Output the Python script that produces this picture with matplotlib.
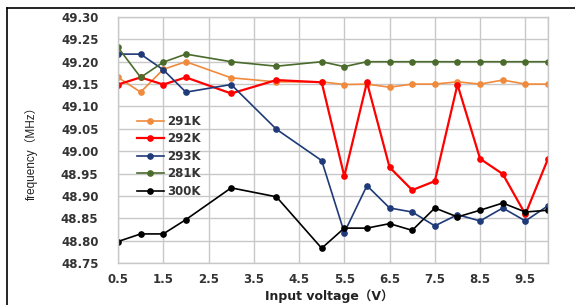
import matplotlib
matplotlib.use("Agg")
import matplotlib.pyplot as plt
from matplotlib.lines import Line2D

voltage = [0.5, 1.0, 1.5, 2.0, 3.0, 4.0, 5.0, 5.5, 6.0, 6.5, 7.0, 7.5, 8.0, 8.5, 9.0, 9.5, 10.0]
f_291K = [49.165, 49.132, 49.183, 49.200, 49.164, 49.155, 49.155, 49.149, 49.150, 49.143, 49.150, 49.150, 49.155, 49.150, 49.159, 49.150, 49.150]
f_292K = [49.149, 49.165, 49.149, 49.165, 49.129, 49.159, 49.154, 48.944, 49.154, 48.964, 48.913, 48.933, 49.149, 48.983, 48.949, 48.859, 48.983]
f_293K = [49.217, 49.217, 49.182, 49.132, 49.149, 49.049, 48.979, 48.818, 48.923, 48.873, 48.864, 48.833, 48.858, 48.844, 48.873, 48.844, 48.878]
f_281K = [49.232, 49.165, 49.199, 49.217, 49.200, 49.190, 49.200, 49.189, 49.200, 49.200, 49.200, 49.200, 49.200, 49.200, 49.200, 49.200, 49.200]
f_300K = [48.798, 48.815, 48.815, 48.847, 48.918, 48.898, 48.783, 48.828, 48.828, 48.838, 48.823, 48.873, 48.853, 48.868, 48.884, 48.864, 48.868]

series = [
    ("291K", f_291K, "#F08A3C", 1.2),
    ("292K", f_292K, "#FF0000", 1.6),
    ("293K", f_293K, "#1F3A78", 1.2),
    ("281K", f_281K, "#4A6B2C", 1.2),
    ("300K", f_300K, "#000000", 1.2),
]

xticks = [0.5, 1.5, 2.5, 3.5, 4.5, 5.5, 6.5, 7.5, 8.5, 9.5]
yticks = [48.75, 48.80, 48.85, 48.90, 48.95, 49.00, 49.05, 49.10, 49.15, 49.20, 49.25, 49.30]

fig = plt.figure(figsize=(5.75, 3.05), dpi=100)
ax = fig.add_axes([118/575, 1 - 263/305, (548 - 118)/575, (263 - 17)/305])

for name, vals, col, lw in series:
    ax.plot(voltage, vals, color=col, lw=lw, marker="o", ms=3.8, label=name)

ax.set_xlim(0.5, 10.0)
ax.set_ylim(48.75, 49.30)
ax.set_xticks(xticks + [10.0])
ax.set_xticklabels([f"{t:.1f}" for t in xticks] + [""])
ax.set_yticks(yticks)
ax.set_yticklabels([f"{t:.2f}" for t in yticks])
ax.grid(True, color="#c8c8c8", lw=1.0)
ax.set_axisbelow(True)
for s in ax.spines.values():
    s.set_color("#c8c8c8")
    s.set_linewidth(1.0)
ax.tick_params(axis="both", length=0, colors="#333333", labelsize=8.5)
ax.tick_params(axis="y", pad=14)
ax.tick_params(axis="x", pad=7)
for lab in ax.get_xticklabels() + ax.get_yticklabels():
    lab.set_fontweight("bold")
    lab.set_family("DejaVu Sans")

fig.text(329/575, 1 - 296/305, "Input voltage（V）", ha="center", va="center",
         fontsize=9, fontweight="bold", color="#222222",
         family=["DejaVu Sans", "Noto Sans CJK JP"])
fig.text(31/575, 1 - 150/305, "frequency（MHz）", ha="center", va="center",
         rotation=90, fontsize=8.5, color="#222222",
         family=["Liberation Sans", "Noto Sans CJK JP"])

leg = ax.legend(loc="upper left", bbox_to_anchor=(14/430, 1 - 93/246),
                frameon=False, handlelength=2.3, handletextpad=0.3,
                labelspacing=0.38, borderaxespad=0.0,
                prop={"weight": "bold", "size": 8.5})
for t in leg.get_texts():
    t.set_color("#333333")

# outer border
fig.add_artist(Line2D([7/575, 1.0], [1 - 8/305, 1 - 8/305], color="black", lw=1.2,
                      transform=fig.transFigure))
fig.add_artist(Line2D([7/575, 7/575], [0.0, 1 - 8/305], color="black", lw=1.2,
                      transform=fig.transFigure))

fig.savefig("out.png", dpi=100)
